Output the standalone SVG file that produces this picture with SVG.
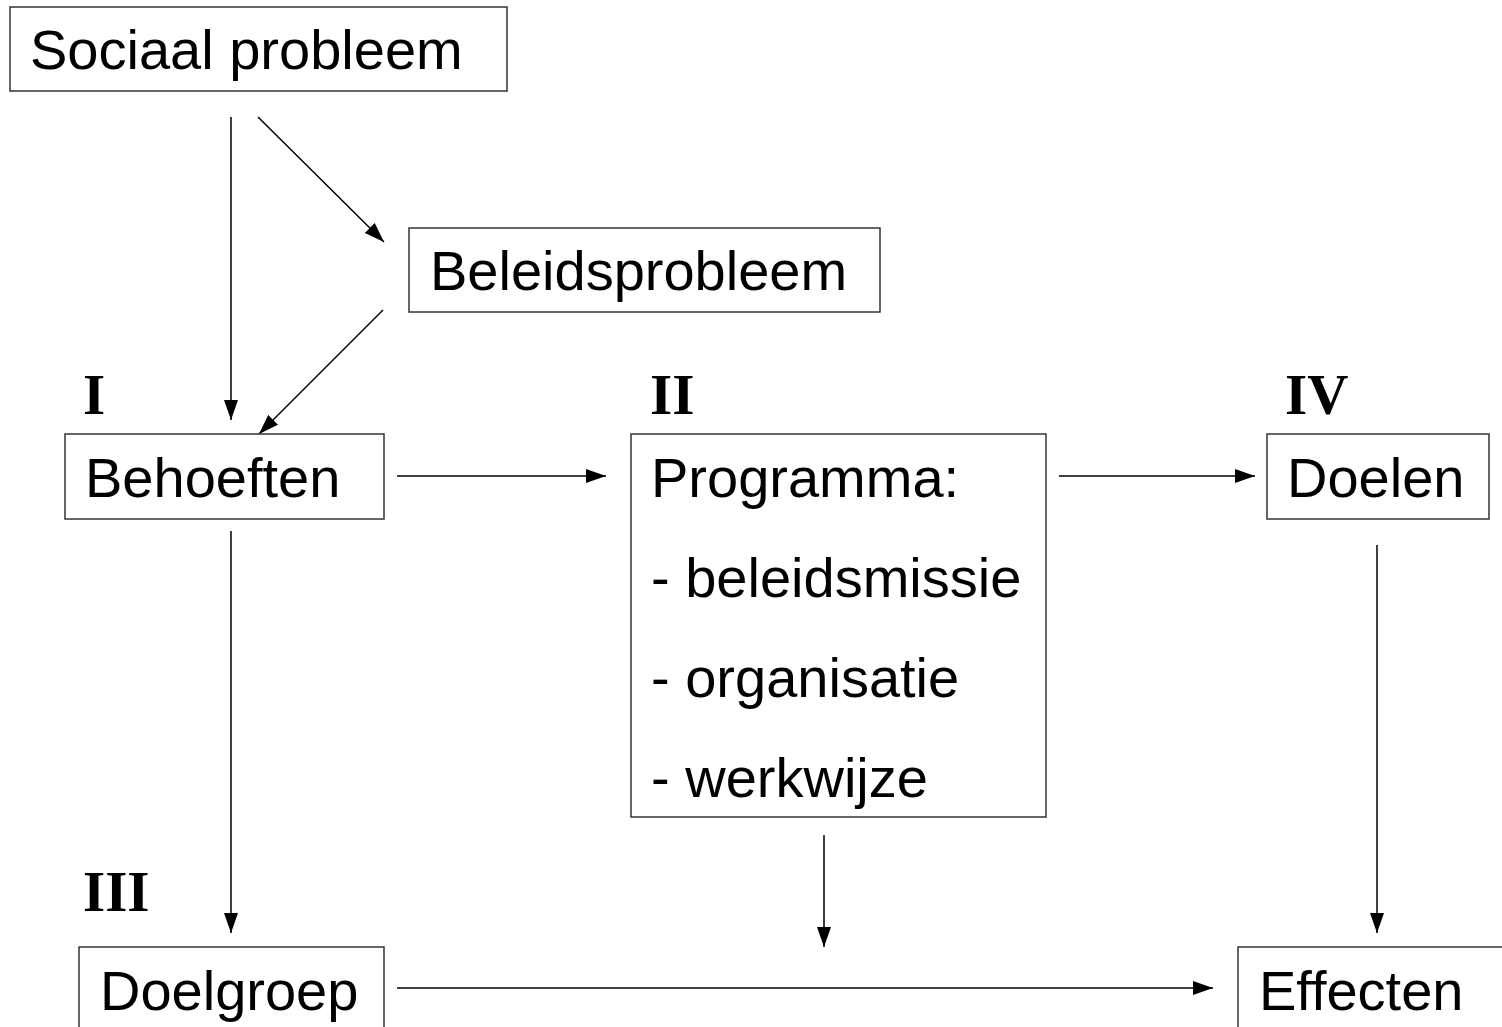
<svg xmlns="http://www.w3.org/2000/svg" width="1502" height="1027" viewBox="0 0 1502 1027">
<style>
.box{fill:#fff;stroke:#333;stroke-width:1.5}
.t{font-family:"Liberation Sans",Arial,sans-serif;font-size:56px;fill:#000}
.r{font-family:"Liberation Serif","Times New Roman",serif;font-size:57px;font-weight:bold;fill:#000}
.c{stroke:#000;stroke-width:1.5;fill:none;marker-end:url(#ah)}
</style>
<defs>
<marker id="ah" markerWidth="20" markerHeight="14" refX="20" refY="7" orient="auto" markerUnits="userSpaceOnUse">
<path d="M0,0 L20,7 L0,14 Z" fill="#000"/>
</marker>
</defs>
<rect width="1502" height="1027" fill="#fff"/>
<g id="connectors">
<line class="c" x1="231" y1="117" x2="231" y2="420"/>
<line class="c" x1="258" y1="117" x2="384" y2="242"/>
<line class="c" x1="383" y1="310" x2="259" y2="434"/>
<line class="c" x1="397" y1="476" x2="606" y2="476"/>
<line class="c" x1="1059" y1="476" x2="1255" y2="476"/>
<line class="c" x1="231" y1="531" x2="231" y2="933"/>
<line class="c" x1="824" y1="835" x2="824" y2="947"/>
<line class="c" x1="1377" y1="545" x2="1377" y2="933"/>
<line class="c" x1="397" y1="988" x2="1213" y2="988"/>
</g>
<g id="labels">
<text class="r" x="83" y="414">I</text>
<text class="r" x="650" y="414">II</text>
<text class="r" x="1285" y="414">IV</text>
<text class="r" x="83" y="911">III</text>
</g>
<g id="sociaal">
<rect class="box" x="10" y="7" width="497" height="84"/>
<text class="t" x="30" y="69">Sociaal probleem</text>
</g>
<g id="beleidsprobleem">
<rect class="box" x="409" y="228" width="471" height="84"/>
<text class="t" x="430" y="290">Beleidsprobleem</text>
</g>
<g id="behoeften">
<rect class="box" x="65" y="434" width="319" height="85"/>
<text class="t" x="85" y="497">Behoeften</text>
</g>
<g id="programma">
<rect class="box" x="631" y="434" width="415" height="383"/>
<text class="t" x="651" y="497">Programma:</text>
<text class="t" x="651" y="597">- beleidsmissie</text>
<text class="t" x="651" y="697">- organisatie</text>
<text class="t" x="651" y="797">- werkwijze</text>
</g>
<g id="doelen">
<rect class="box" x="1267" y="434" width="222" height="85"/>
<text class="t" x="1287" y="497">Doelen</text>
</g>
<g id="doelgroep">
<rect class="box" x="79" y="947" width="305" height="100"/>
<text class="t" x="100" y="1010">Doelgroep</text>
</g>
<g id="effecten">
<rect class="box" x="1238" y="947" width="280" height="100"/>
<text class="t" x="1259" y="1010">Effecten</text>
</g>
</svg>
